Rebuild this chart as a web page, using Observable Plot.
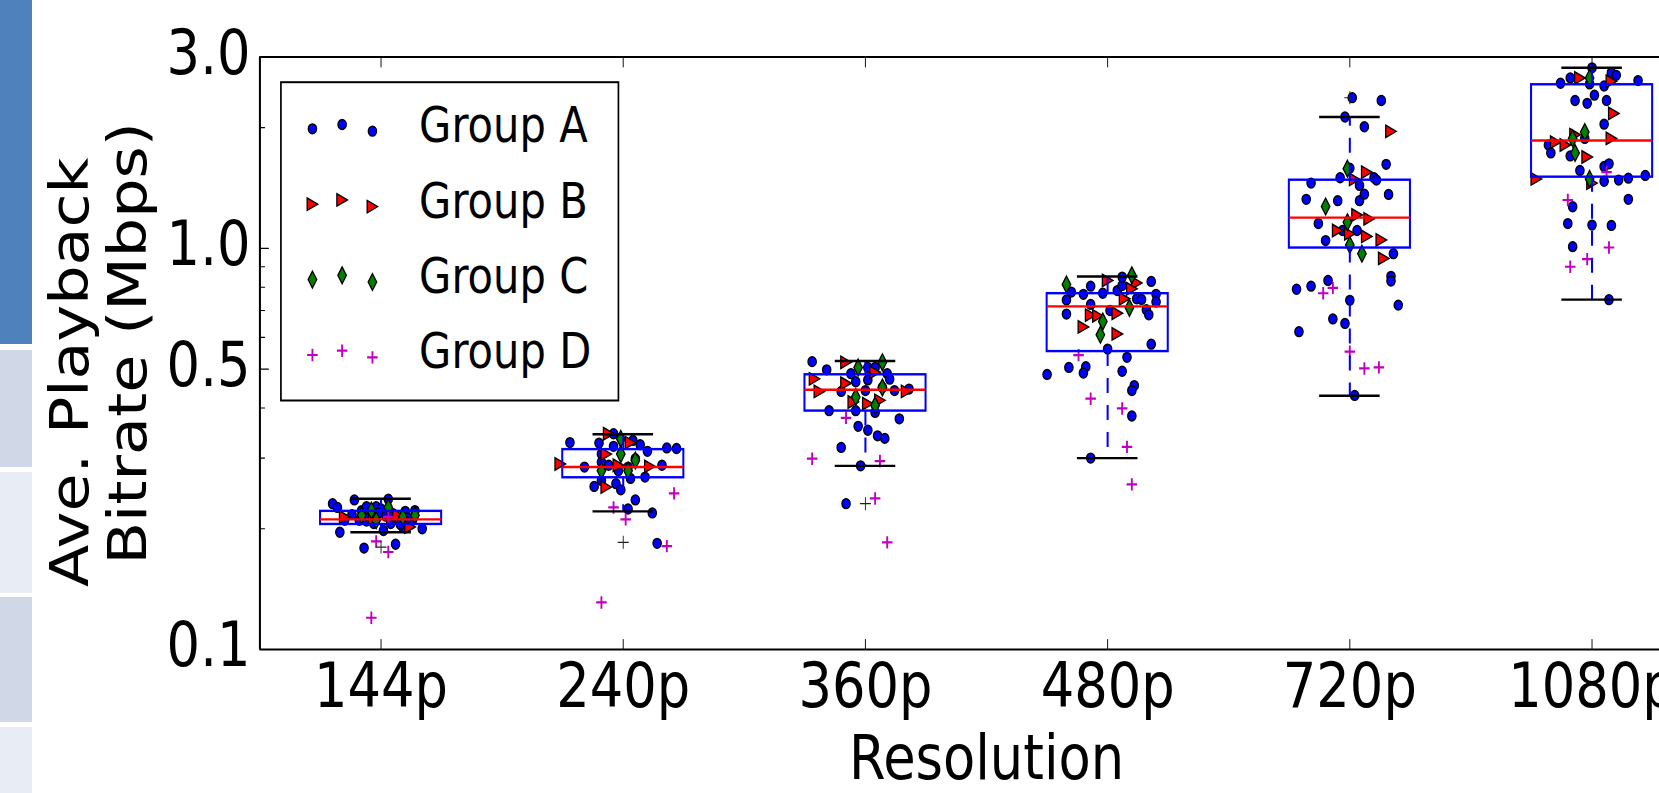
<!DOCTYPE html>
<html><head><meta charset="utf-8">
<script src="https://cdn.jsdelivr.net/npm/d3@7"></script>
<script src="https://cdn.jsdelivr.net/npm/@observablehq/plot@0.6"></script>
<style>
html,body{margin:0;padding:0;background:#fff;overflow:hidden;}
#wrap{position:relative;width:1659px;height:793px;overflow:hidden;}
#wrap svg{display:block;}
.strip{position:absolute;left:0;width:32px;}
</style></head><body>
<div id="wrap"></div>
<script>
// ---------------- data ----------------
const resolutions = ["144p", "240p", "360p", "480p", "720p", "1080p"];
const groups = ["Group A", "Group B", "Group C", "Group D"];
const yTickValues = [0.1, 0.5, 1, 3];
const yTickLabels = ["0.1", "0.5", "1.0", "3.0"];
const yMinorTicks = [0.2, 0.3, 0.4, 0.6, 0.7, 0.8, 0.9, 2];

// boxplot statistics per resolution
const boxLow    = [0.196, 0.221, 0.287, 0.300, 0.429, 0.745];
const boxQ1     = [0.205, 0.268, 0.393, 0.553, 1.002, 1.505];
const boxMedian = [0.211, 0.285, 0.444, 0.717, 1.193, 1.857];
const boxQ3     = [0.221, 0.315, 0.484, 0.771, 1.479, 2.558];
const boxHigh   = [0.2375, 0.344, 0.524, 0.851, 2.126, 2.82];
const flierPos  = [1, 2, 3, 5];
const flierVal  = [0.180, 0.185, 0.231, 2.375];

// jittered positions (category units) and bitrates (Mbps)
const groupAPos = [0.80,0.82,0.89,0.83,0.93,1.06,1.03,0.92,0.94,0.98,1.00,0.91,0.94,1.01,1.10,1.14,1.17,1.13,1.07,0.85,1.09,0.97,1.04,0.95,1.02,1.05,0.88,1.11,0.99,1.08,
  1.78,1.90,1.96,2.07,2.10,2.18,2.22,1.84,1.91,1.91,1.98,2.03,2.05,2.09,2.16,1.88,1.91,1.97,1.99,2.05,2.02,2.12,2.14,1.94,2.02,1.96,2.04,
  2.78,2.84,2.94,3.01,3.04,3.09,3.10,2.96,3.01,2.90,3.00,3.12,3.18,2.85,2.96,3.04,3.14,2.97,3.01,3.05,3.08,2.90,2.98,2.92,3.07,
  3.75,3.83,3.83,3.85,3.90,3.93,3.93,3.98,4.01,4.04,4.06,4.06,4.12,4.14,4.18,4.20,4.20,4.16,4.17,4.18,4.00,4.08,3.84,3.91,3.90,4.06,4.11,4.10,4.10,3.93,
  5.01,5.13,4.98,5.06,5.15,5.00,4.96,5.10,5.11,4.84,4.82,4.95,5.04,5.06,5.04,5.16,4.87,4.90,4.97,5.03,5.18,5.17,5.17,5.20,5.00,4.91,4.84,4.78,4.93,4.98,4.79,5.02,
  6.00,5.91,5.87,6.08,6.10,6.19,6.05,5.99,5.93,5.98,6.01,6.06,6.05,5.82,5.83,5.91,5.97,5.95,6.05,6.07,6.05,6.11,6.15,6.22,6.15,5.92,5.90,6.00,6.08,5.92,6.07];
const groupAVal = [0.231,0.226,0.236,0.196,0.179,0.183,0.237,0.222,0.227,0.227,0.224,0.210,0.209,0.198,0.221,0.222,0.200,0.210,0.210,0.210,0.202,0.206,0.206,0.214,0.215,0.218,0.217,0.213,0.219,0.205,
  0.328,0.327,0.321,0.324,0.312,0.318,0.317,0.285,0.307,0.293,0.279,0.267,0.299,0.269,0.288,0.255,0.264,0.259,0.250,0.236,0.224,0.219,0.184,0.288,0.285,0.345,0.332,
  0.522,0.498,0.487,0.505,0.505,0.487,0.472,0.465,0.470,0.440,0.442,0.442,0.446,0.394,0.394,0.390,0.376,0.360,0.352,0.341,0.336,0.319,0.287,0.231,0.450,
  0.485,0.744,0.686,0.778,0.768,0.805,0.725,0.773,0.700,0.785,0.808,0.848,0.749,0.746,0.827,0.768,0.735,0.703,0.683,0.577,0.561,0.535,0.505,0.507,0.489,0.494,0.455,0.442,0.382,0.300,
  2.375,2.337,2.126,2.01,1.620,1.585,1.500,1.500,1.480,1.455,1.325,1.315,1.315,1.365,1.435,1.363,1.153,1.046,1.108,1.108,0.970,0.852,0.829,0.722,0.742,0.832,0.805,0.791,0.667,0.650,0.620,0.430,
  2.82,2.66,2.58,2.74,2.70,2.62,2.54,2.57,2.337,2.30,2.41,2.337,2.04,1.81,1.73,1.70,1.88,1.564,1.60,1.625,1.47,1.48,1.496,1.52,1.325,1.27,1.153,1.143,1.141,1.01,0.745];

const groupBPos = [0.85,1.12,1.07,0.97,
  1.74,1.94,2.03,1.93,1.98,2.11,1.93,
  2.79,2.81,2.92,2.92,3.04,3.01,3.06,3.17,2.95,
  4.00,4.12,4.10,4.07,3.93,3.96,4.04,3.90,4.04,
  5.17,5.07,5.02,5.03,5.08,4.95,5.00,5.07,5.13,5.14,
  5.95,6.08,6.09,5.85,5.89,6.08,5.98,5.77,6.00,5.93];
const groupBVal = [0.214,0.202,0.216,0.212,
  0.290,0.345,0.328,0.307,0.288,0.286,0.254,
  0.473,0.440,0.520,0.461,0.491,0.410,0.418,0.440,0.414,
  0.832,0.820,0.793,0.749,0.682,0.679,0.689,0.637,0.612,
  1.958,1.549,1.486,1.211,1.185,1.108,1.087,1.071,1.050,0.944,
  2.66,2.61,2.17,1.84,1.81,1.88,1.69,1.49,1.455,1.92];

const groupCPos = [0.96,1.03,1.09,1.14,0.98,0.92,
  1.99,1.99,2.05,1.91,2.02,
  2.97,3.07,2.96,3.07,3.04,
  3.83,4.10,4.09,3.98,3.97,
  4.99,4.90,4.99,5.00,5.05,
  5.99,5.97,5.92,5.93,5.99];
const groupCVal = [0.222,0.226,0.214,0.216,0.210,0.216,
  0.335,0.307,0.296,0.279,0.279,
  0.505,0.520,0.426,0.450,0.406,
  0.813,0.857,0.711,0.657,0.609,
  1.580,1.272,1.162,1.020,0.970,
  2.66,1.95,1.88,1.73,1.49];

const groupDPos = [0.98,1.03,0.96,1.03,
  2.21,1.96,2.01,2.18,1.91,
  2.92,2.78,3.06,3.04,3.09,
  3.88,3.93,4.06,4.08,4.10,
  4.89,4.93,5.00,5.06,5.12,
  6.06,5.90,6.07,5.98,5.91];
const groupDVal = [0.186,0.175,0.120,0.214,
  0.245,0.226,0.211,0.181,0.131,
  0.378,0.299,0.295,0.238,0.185,
  0.542,0.422,0.399,0.320,0.258,
  0.773,0.797,0.553,0.502,0.505,
  1.55,1.32,1.005,0.94,0.90];

// ---------------- layout ----------------
const OUT_W = 1659, OUT_H = 793;
const W = 1952;                 // drawing width, squeezed horizontally to OUT_W
const SQ = OUT_W / W;
const xDomain = [0.5, 6.5];
const yDomain = [0.1, 3];
const mLeft = 259.5 / SQ, mTop = 56.5, mBottom = 144;

const rows = (p, v) => p.map((x, i) => ({x, y: v[i]}));
const boxes = resolutions.map((r, i) => ({pos: i + 1, lo: boxLow[i], q1: boxQ1[i], med: boxMedian[i], q3: boxQ3[i], hi: boxHigh[i]}));
const fliers = rows(flierPos, flierVal);
const positions = resolutions.map((r, i) => i + 1);

// marker shapes (matplotlib-like)
const triRight = {draw(c, size) { const r = Math.sqrt(size / Math.PI); c.moveTo(r, 0); c.lineTo(-r, -r); c.lineTo(-r, r); c.closePath(); }};
const thinDiamond = {draw(c, size) { const r = Math.sqrt(size / Math.PI); const h = 1.35 * r, w = 0.6 * h; c.moveTo(0, -h); c.lineTo(w, 0); c.lineTo(0, h); c.lineTo(-w, 0); c.closePath(); }};
const plusLine = {draw(c, size) { const r = Math.sqrt(size / Math.PI); c.moveTo(-r, 0); c.lineTo(r, 0); c.moveTo(0, -r); c.lineTo(0, r); }};
const tickShape = {draw(c, l) { c.moveTo(0, 0); c.lineTo(0, -l); }};

const styles = [
  {symbol: "circle", r: 4.9, fill: "#0000ff", stroke: "black", strokeWidth: 1.5},
  {symbol: triRight, r: 6.2, fill: "#ff0000", stroke: "black", strokeWidth: 1.5},
  {symbol: thinDiamond, r: 6.2, fill: "#008000", stroke: "black", strokeWidth: 1.5},
  {symbol: plusLine, r: 6.2, fill: "none", stroke: "#bf00bf", strokeWidth: 2.2}
];
const groupData = [rows(groupAPos, groupAVal), rows(groupBPos, groupBVal), rows(groupCPos, groupCVal), rows(groupDPos, groupDVal)];

const FONT = "'DejaVu Sans', sans-serif";

// legend marks
const legendMarks = [];
const markerDx = [52.5 / SQ, 82.2 / SQ, 112.5 / SQ];
const markerOff = [4.3, 0, 6.7];
groups.forEach((g, i) => {
  markerDx.forEach((dx, k) => {
    legendMarks.push(Plot.dot([g], {frameAnchor: "top-left", dx, dy: 67.5 + 75.4 * i + markerOff[k], ...styles[i]}));
  });
  legendMarks.push(Plot.text([g], {frameAnchor: "top-left", dx: (418.7 - 259.5) / SQ, dy: 85.2 + 75.4 * i,
    textAnchor: "start", lineAnchor: "bottom", fontSize: 49, fontFamily: FONT, fill: "black"}));
});

const BOXW = 2.4;
const chart = Plot.plot({
  width: W, height: OUT_H,
  marginLeft: mLeft, marginTop: mTop, marginBottom: mBottom, marginRight: 0,
  style: {fontFamily: FONT, background: "white", color: "black"},
  x: {type: "linear", domain: xDomain, range: [259.5 / SQ, 1712.7 / SQ]},
  y: {type: "log", domain: yDomain, range: [649, 56.5]},
  marks: [
    // scatter of groups
    ...groupData.map((d, i) => Plot.dot(d, {x: "x", y: "y", ...styles[i]})),
    // boxplot
    Plot.ruleX(boxes, {x: "pos", y1: "q3", y2: "hi", stroke: "#0000ff", strokeWidth: BOXW, strokeDasharray: "15,12"}),
    Plot.ruleX(boxes, {x: "pos", y1: "q1", y2: "lo", stroke: "#0000ff", strokeWidth: BOXW, strokeDasharray: "15,12"}),
    Plot.rect(boxes, {x1: d => d.pos - 0.25, x2: d => d.pos + 0.25, y1: "q1", y2: "q3", fill: "none", stroke: "#0000ff", strokeWidth: BOXW}),
    Plot.ruleY(boxes, {y: "med", x1: d => d.pos - 0.25, x2: d => d.pos + 0.25, stroke: "#ff0000", strokeWidth: BOXW}),
    Plot.ruleY(boxes, {y: "hi", x1: d => d.pos - 0.125, x2: d => d.pos + 0.125, stroke: "black", strokeWidth: BOXW}),
    Plot.ruleY(boxes, {y: "lo", x1: d => d.pos - 0.125, x2: d => d.pos + 0.125, stroke: "black", strokeWidth: BOXW}),
    Plot.dot(fliers, {x: "x", y: "y", symbol: plusLine, r: 6.5, fill: "none", stroke: "#222", strokeWidth: 1.1}),
    // axes frame (left, bottom, top)
    Plot.ruleY(yDomain, {x1: () => xDomain[0], x2: () => xDomain[1], stroke: "black", strokeWidth: 2}),
    Plot.ruleX([xDomain[0]], {y1: () => yDomain[0], y2: () => yDomain[1], stroke: "black", strokeWidth: 2.4}),
    // inward ticks
    Plot.vector(positions, {x: d => d, frameAnchor: "bottom", length: 10, rotate: 0, anchor: "start", shape: tickShape, stroke: "black", strokeWidth: 1}),
    Plot.vector(positions, {x: d => d, frameAnchor: "top", length: 10, rotate: 180, anchor: "start", shape: tickShape, stroke: "black", strokeWidth: 1}),
    Plot.vector(yTickValues, {y: d => d, frameAnchor: "left", length: 10, rotate: 90, anchor: "start", shape: tickShape, stroke: "black", strokeWidth: 1.2}),
    Plot.vector(yMinorTicks, {y: d => d, frameAnchor: "left", length: 5.5, rotate: 90, anchor: "start", shape: tickShape, stroke: "black", strokeWidth: 1.2}),
    // tick labels
    Plot.axisX({anchor: "bottom", ticks: positions, tickFormat: d => resolutions[d - 1], tickSize: 0, tickPadding: 13.7, fontSize: 62, fontFamily: FONT, label: null}),
    Plot.axisY({anchor: "left", ticks: yTickValues, tickFormat: d => yTickLabels[yTickValues.indexOf(d)], tickSize: 0, tickPadding: 11.2, dy: -3, fontSize: 62, fontFamily: FONT, label: null}),
    // axis titles
    Plot.text(["Resolution"], {x: () => (xDomain[0] + xDomain[1]) / 2, frameAnchor: "bottom", dy: 129, lineAnchor: "bottom", fontSize: 62, fontFamily: FONT, fill: "black"}),
    Plot.text(["Ave. Playback"], {frameAnchor: "left", rotate: -90, textAnchor: "middle", lineAnchor: "bottom", dx: 88 / SQ - mLeft, dy: 19, fontSize: 62, fontFamily: FONT, fill: "black"}),
    Plot.text(["Bitrate (Mbps)"], {frameAnchor: "left", rotate: -90, textAnchor: "middle", lineAnchor: "bottom", dx: 146 / SQ - mLeft, dy: -10, fontSize: 62, fontFamily: FONT, fill: "black"}),
    // legend
    Plot.frame({insetLeft: (280.5 - 259.5) / SQ, insetRight: W - 618 / SQ, insetTop: 81.7 - mTop, insetBottom: 649 - 400, fill: "white", stroke: "black", strokeWidth: 2}),
    ...legendMarks
  ]
});

chart.setAttribute("width", OUT_W);
chart.setAttribute("height", OUT_H);
chart.setAttribute("preserveAspectRatio", "none");
chart.style.width = OUT_W + "px";
chart.style.height = OUT_H + "px";
chart.style.maxWidth = "none";
const wrap = document.getElementById("wrap");
wrap.appendChild(chart);

// slide-side decoration strip at the left edge
[[0, 344, "#4f81bd"], [350, 467, "#d0d8e8"], [472, 593, "#e8ecf4"], [597, 722, "#d0d8e8"], [727, 793, "#e8ecf4"]].forEach(([t, b, c]) => {
  const d = document.createElement("div");
  d.className = "strip";
  d.style.top = t + "px"; d.style.height = (b - t) + "px"; d.style.background = c;
  wrap.appendChild(d);
});
</script>
</body></html>
